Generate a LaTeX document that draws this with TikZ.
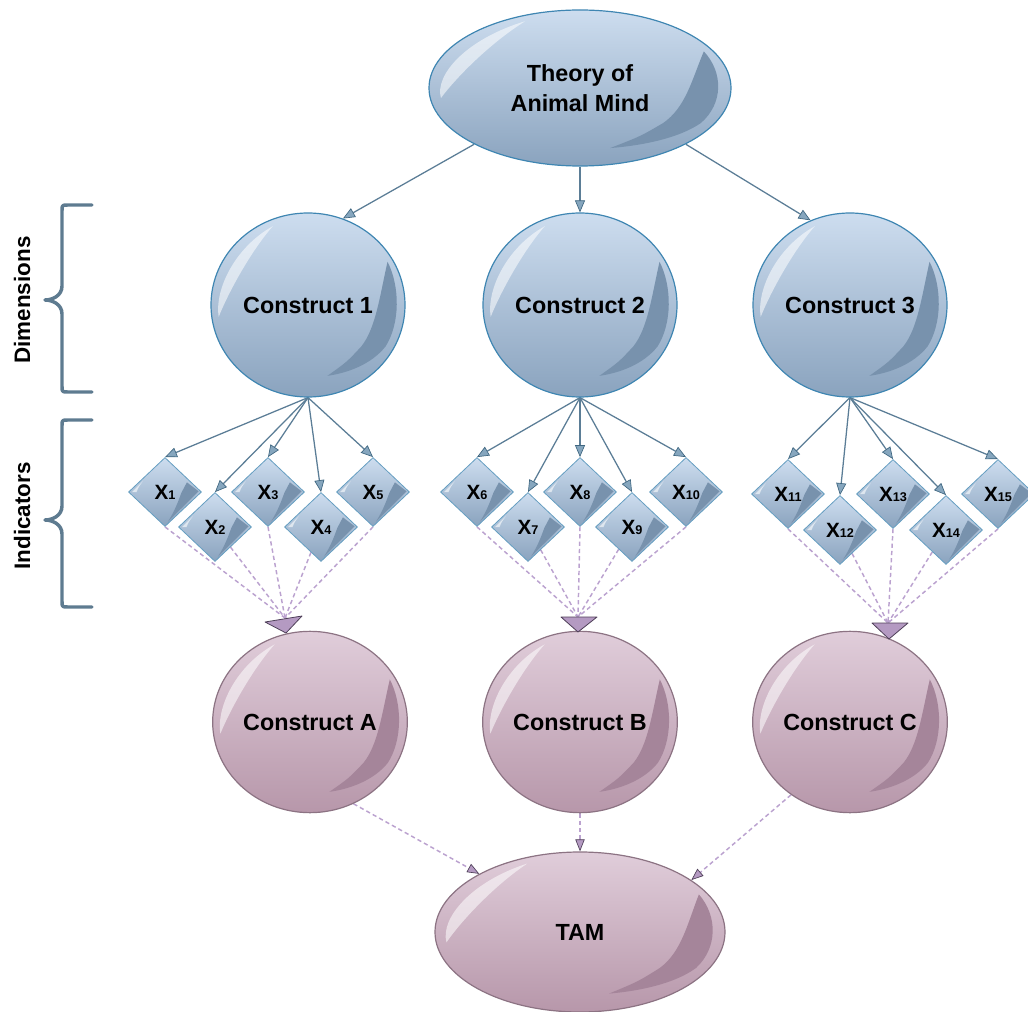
\documentclass[tikz,border=0pt]{standalone}
\usepackage{fontspec}
\setmainfont{Liberation Sans}
\usetikzlibrary{shapes.geometric,arrows.meta,calc}
\definecolor{btop}{HTML}{CDDDEF}
\definecolor{bbot}{HTML}{8AA3BE}
\definecolor{bedge}{HTML}{3F86B2}
\definecolor{bdark}{HTML}{7892AD}
\definecolor{ptop}{HTML}{E0CDDA}
\definecolor{pbot}{HTML}{B797AA}
\definecolor{pedge}{HTML}{8C7383}
\definecolor{pdark}{HTML}{A5859A}
\definecolor{bline}{HTML}{5B7D96}
\definecolor{barrow}{HTML}{86A6BE}
\definecolor{bout}{HTML}{3F6680}
\definecolor{pline}{HTML}{BBA2CF}
\definecolor{parrow}{HTML}{B49AC2}
\definecolor{pout}{HTML}{4E3F58}
\definecolor{brk}{HTML}{5E7B90}
\pgfdeclarelayer{bg}\pgfsetlayers{bg,main}
\newcommand\Xsub[1]{{\fontsize{15.5}{16}\selectfont X}{\fontsize{9.5}{10}\selectfont #1}}
\newcommand\gloss[4]{%
\begin{scope}[shift={(#1.center)},x=#2,y=#3]
\fill[white,opacity=0.55] (113:0.93) .. controls (140:0.98) and (170:0.98) .. (188:0.93) .. controls (170:0.83) and (135:0.83) .. cycle;
\fill[#4] (0.82,0.47) .. controls (0.95,0.2) and (0.95,-0.2) .. (0.8,-0.45) .. controls (0.65,-0.65) and (0.4,-0.74) .. (0.2,-0.77) .. controls (0.4,-0.62) .. (0.55,-0.45) .. controls (0.7,-0.25) and (0.74,0.1) .. cycle;
\end{scope}}
\newcommand\dgloss[1]{%
\begin{scope}[shift={(#1.center)},x=27.4pt,y=25.9pt]
\fill[white,opacity=0.6] (-0.9,0) -- (-0.6,0.32) .. controls (-0.72,0.15) .. (-0.78,0) -- cycle;
\fill[bdark] (0.6,0.28) -- (0.92,0.02) -- (0.08,-0.86) .. controls (0.3,-0.5) and (0.4,-0.15) .. (0.45,-0.02) .. controls (0.52,0.12) .. cycle;
\end{scope}}
\tikzset{
 bignode/.style={ellipse, line width=0.9pt, inner sep=0pt, align=center, font=\fontsize{17.5}{22.5}\selectfont\bfseries},
 bnode/.style={bignode, draw=bedge, top color=btop, bottom color=bbot},
 pnode/.style={bignode, draw=pedge, top color=ptop, bottom color=pbot},
 dia/.style={diamond, draw=bedge!80, line width=0.6pt, top color=btop, bottom color=bbot, minimum width=54.75pt, minimum height=51.75pt, inner sep=0pt, font=\bfseries},
 barr/.style={draw=bline, line width=0.95pt, -{Triangle[length=9pt,width=7.5pt,color=bout,fill=barrow,line width=0.5pt]}},
 dline/.style={draw=pline, line width=1.1pt, dash pattern=on 3.2pt off 2.3pt},
 parr/.style={dline, -{Triangle[length=9pt,width=7pt,color=pout,fill=parrow,line width=0.5pt]}},
 tri/.style={fill=parrow, draw=pout, line width=0.6pt, line join=round},
 brack/.style={draw=brk, line width=2.6pt, line cap=round, line join=round},
 side/.style={font=\fontsize{16.8}{20}\selectfont\bfseries, rotate=90}
}
\begin{document}
\begin{tikzpicture}[x=0.75pt,y=-0.75pt]
\useasboundingbox (0,0) rectangle (1028,1012);
% main nodes
\node[bnode, minimum width=226.5pt, minimum height=117pt] (T) at (580,88) {Theory of\\Animal Mind};
\node[bnode, minimum width=145.5pt, minimum height=138pt] (C1) at (308,305) {Construct 1};
\node[bnode, minimum width=145.5pt, minimum height=138pt] (C2) at (580,305) {Construct 2};
\node[bnode, minimum width=145.5pt, minimum height=138pt] (C3) at (850,305) {Construct 3};
\node[pnode, minimum width=146pt, minimum height=136pt] (A) at (310,722) {Construct A};
\node[pnode, minimum width=146pt, minimum height=136pt] (B) at (580,722) {Construct B};
\node[pnode, minimum width=146pt, minimum height=136pt] (C) at (850,722) {Construct C};
\node[pnode, minimum width=217.5pt, minimum height=120pt] (TAM) at (580,932) {TAM};
\gloss{T}{113.25pt}{58.5pt}{bdark}
\gloss{C1}{72.75pt}{69pt}{bdark}
\gloss{C2}{72.75pt}{69pt}{bdark}
\gloss{C3}{72.75pt}{69pt}{bdark}
\gloss{A}{73pt}{68pt}{pdark}
\gloss{B}{73pt}{68pt}{pdark}
\gloss{C}{73pt}{68pt}{pdark}
\gloss{TAM}{108.75pt}{60pt}{pdark}
% indicators
\node[dia] (x1) at (165,492) {\Xsub{1}};
\node[dia] (x2) at (215,527) {\Xsub{2}};
\node[dia] (x3) at (268,492) {\Xsub{3}};
\node[dia] (x4) at (321,527) {\Xsub{4}};
\node[dia] (x5) at (373,492) {\Xsub{5}};
\node[dia] (x6) at (477,492) {\Xsub{6}};
\node[dia] (x7) at (528,527) {\Xsub{7}};
\node[dia] (x8) at (580,492) {\Xsub{8}};
\node[dia] (x9) at (632,527) {\Xsub{9}};
\node[dia] (x10) at (686,492) {\Xsub{10}};
\node[dia] (x11) at (788,494) {\Xsub{11}};
\node[dia] (x12) at (840,530) {\Xsub{12}};
\node[dia] (x13) at (893,494) {\Xsub{13}};
\node[dia] (x14) at (946,530) {\Xsub{14}};
\node[dia] (x15) at (998,494) {\Xsub{15}};
\foreach \i in {1,...,15} {\dgloss{x\i}}
% convergence points
\coordinate (cA) at (285,618);
\coordinate (cB) at (578,617);
\coordinate (cC) at (888,623);
\begin{pgfonlayer}{bg}
\draw[barr] (T.208) -- (C1.68);
\draw[barr] (T.south) -- (C2.north);
\draw[barr] (T.-28) -- (C3.115);
\foreach \i in {1,...,5} {\draw[barr] (C1.south) -- (x\i.north);}
\foreach \i in {6,...,10} {\draw[barr] (C2.south) -- (x\i.north);}
\foreach \i in {11,...,15} {\draw[barr] (C3.south) -- (x\i.north);}
\draw[dline] (x1.south) -- (cA); \draw[dline] (x2) -- (cA); \draw[dline] (x3.south) -- (cA); \draw[dline] (x4) -- (cA); \draw[dline] (x5.south) -- (cA);
\draw[dline] (x6.south) -- (cB); \draw[dline] (x7) -- (cB); \draw[dline] (x8.south) -- (cB); \draw[dline] (x9) -- (cB); \draw[dline] (x10.south) -- (cB);
\draw[dline] (x11.south) -- (cC); \draw[dline] (x12) -- (cC); \draw[dline] (x13.south) -- (cC); \draw[dline] (x14) -- (cC); \draw[dline] (x15.south) -- (cC);
\draw[parr] (A.-62) -- (TAM.150);
\draw[parr] (B.south) -- (TAM.north);
\draw[parr] (C.231) -- (TAM.25);
\end{pgfonlayer}
% big triangles
\draw[tri] (265,622) -- (302,616) -- (286,633) -- cycle;
\draw[tri] (561,617) -- (597,617) -- (578,632) -- cycle;
\draw[tri] (872,623) -- (908,623) -- (889,639) -- cycle;
% brackets
\draw[brack] (92,205) -- (68,205) .. controls (62,205) .. (62,211) -- (62,286) .. controls (62,296) and (52,300) .. (45,300) .. controls (52,300) and (62,304) .. (62,314) -- (62,386) .. controls (62,392) .. (68,392) -- (92,392);
\draw[brack] (92,420) -- (68,420) .. controls (62,420) .. (62,426) -- (62,506) .. controls (62,516) and (52,520) .. (45,520) .. controls (52,520) and (62,524) .. (62,534) -- (62,601) .. controls (62,607) .. (68,607) -- (92,607);
\node[side] (dimlab) at (22,300) {Dimensions};
\node[side] (indlab) at (22,516) {Indicators};
\end{tikzpicture}
\end{document}
